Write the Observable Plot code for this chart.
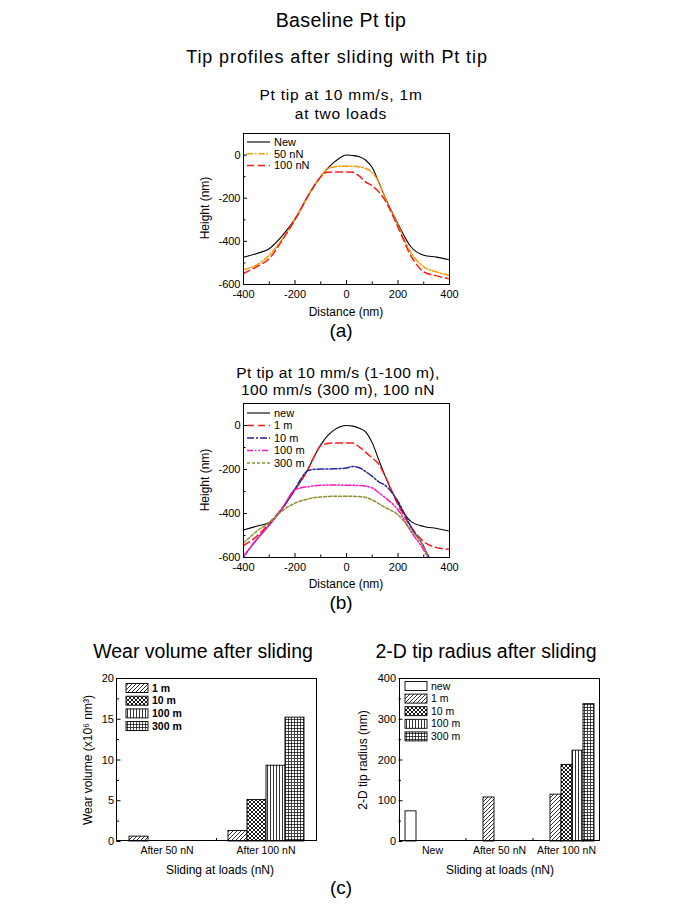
<!DOCTYPE html>
<html>
<head>
<meta charset="utf-8">
<script src="https://cdn.jsdelivr.net/npm/d3@7"></script>
<script src="https://cdn.jsdelivr.net/npm/@observablehq/plot@0.6"></script>
<style>
body { margin: 0; background: #fff; }
#page { position: relative; width: 682px; height: 906px; overflow: hidden; font-family: "Liberation Sans", Arial, sans-serif; }
#page svg { position: absolute; }
</style>
</head>
<body>
<div id="page"></div>
<script>
// ---------- DATA ----------
const distance = [-400,-350,-300,-250,-200,-150,-125,-100,-75,-50,-25,0,25,50,75,100,125,150,200,250,300,350,400];

// Panel (a): Pt tip at 10 mm/s, 1 m, two loads
const loadNames = ["New", "50 nN", "100 nN"];
const aNew  = [-474,-457,-434,-375,-296,-190,-140,-100,-64,-35,-12,0,-2,-8,-24,-58,-125,-196,-319,-425,-464,-473,-486];
const a50   = [-530,-510,-464,-390,-298,-190,-142,-100,-66,-55,-52,-52,-52,-55,-62,-82,-125,-198,-326,-452,-518,-542,-558];
const a100  = [-549,-518,-480,-395,-300,-192,-143,-100,-80,-78,-78,-78,-80,-98,-125,-142,-170,-210,-334,-467,-541,-560,-574];

// Panel (b): sliding distances at 100 nN
const distNames = ["new", "1 m", "10 m", "100 m", "300 m"];
const bNew  = [-475,-458,-441,-378,-292,-200,-140,-88,-48,-22,-6,0,-3,-12,-30,-79,-155,-230,-353,-436,-459,-468,-480];
const b1    = [-546,-505,-444,-375,-292,-200,-140,-92,-82,-79,-79,-79,-80,-98,-122,-148,-175,-230,-360,-460,-528,-555,-563];
const b10   = [-596,-520,-452,-378,-288,-205,-199,-198,-198,-197,-196,-193,-186,-192,-210,-231,-256,-272,-345,-460,-551,-675,-790];
const b100  = [-596,-520,-452,-378,-292,-278,-274,-272,-271,-271,-271,-272,-272,-273,-276,-284,-305,-328,-383,-482,-566,-690,-810];
const b300  = [-535,-482,-441,-388,-353,-334,-328,-325,-323,-322,-322,-322,-322,-323,-327,-338,-355,-372,-406,-475,-551,-720,-860];

// Panel (c) left: wear volume (x10^6 nm^3)
const wearGroups = ["After 50 nN", "After 100 nN"];
const wearSeries = ["1 m", "10 m", "100 m", "300 m"];
const wearAfter50  = [0.6, null, null, null];
const wearAfter100 = [1.3, 5.1, 9.3, 15.2];

// Panel (c) right: 2-D tip radius (nm)
const radGroups = ["New", "After 50 nN", "After 100 nN"];
const radSeries = ["new", "1 m", "10 m", "100 m", "300 m"];
const radNew      = [74, null, null, null, null];
const radAfter50  = [null, 108, null, null, null];
const radAfter100 = [null, 115, 188, 223, 337];

// Tick values
const profXMajor = [-400,-200,0,200,400];
const profXMinor = [-300,-100,100,300];
const profYMajor = [-600,-400,-200,0];
const profYMinor = [-500,-300,-100];
const wearYMajor = [0,5,10,15,20];
const wearYMinor = [2.5,7.5,12.5,17.5];
const radYMajor = [0,100,200,300,400];
const radYMinor = [50,150,250,350];

// ---------- STYLES ----------
const FONT = "Liberation Sans, Arial, sans-serif";
const loadColors = ["#000000", "#ff9900", "#ff1a1a"];
const loadDashes = [undefined, "6,2,1.5,2", "7,4"];
const distColors = ["#000000", "#ff1a1a", "#25259c", "#ff14c4", "#8f8f2c"];
const distDashes = [undefined, "7,4", "7,2,2,2", "6,2,1.5,2,1.5,2", "3,2"];
const patternFill = {"new": "white", "1 m": "url(#p1m)", "10 m": "url(#p10m)", "100 m": "url(#p100m)", "300 m": "url(#p300m)"};

const page = document.getElementById("page");

function place(svg, left, top) {
  svg.style.left = left + "px";
  svg.style.top = top + "px";
  page.appendChild(svg);
}

const baseStyle = {background: "none", fontFamily: FONT, fontSize: "11px", color: "black", overflow: "visible"};

function profilePlot(seriesVals, colors, dashes, box) {
  const marks = seriesVals.map((vals, i) =>
    Plot.line(vals, {x: distance, y: vals, stroke: colors[i], strokeDasharray: dashes[i],
      strokeWidth: i === 0 ? 1.1 : 1.5, curve: "monotone-x", clip: true}));
  return Plot.plot({
    width: box.w, height: box.h,
    marginLeft: box.ml, marginRight: box.mr, marginTop: box.mt, marginBottom: box.mb,
    x: {domain: [-400, 400]},
    y: {domain: [-600, 100]},
    style: baseStyle,
    marks: [
      ...marks,
      Plot.frame({stroke: "black", strokeWidth: 1}),
      Plot.axisX(profXMajor, {tickSize: -4, tickPadding: 10, tickFormat: d => String(d), label: null}),
      Plot.axisX(profXMinor, {tickSize: -2.5, tickFormat: () => "", label: null}),
      Plot.axisY(profYMajor, {tickSize: -4, tickPadding: 7, tickFormat: d => String(d), label: null}),
      Plot.axisY(profYMinor, {tickSize: -2.5, tickFormat: () => "", label: null})
    ]
  });
}

function barGeometry(groups, box, padIn, padOut) {
  const frameW = box.w - box.ml - box.mr;
  const step = frameW / (groups.length - padIn + 2 * padOut);
  return {step, outer: step * padOut};
}

function barPlot(groups, seriesNames, rows, yDomain, yMajor, yMinor, box, padIn, padOut) {
  const table = [];
  groups.forEach((g, gi) => seriesNames.forEach((s, si) => {
    const v = rows[gi][si];
    if (v != null) table.push({group: g, series: s, value: v});
  }));
  const {outer} = barGeometry(groups, box, padIn, padOut);
  return Plot.plot({
    width: box.w, height: box.h,
    marginLeft: box.ml, marginRight: box.mr, marginTop: box.mt, marginBottom: box.mb,
    facet: {data: table, x: "group"},
    fx: {domain: groups, paddingInner: padIn, paddingOuter: padOut, label: null, axis: "bottom", tickSize: 0, tickPadding: 5},
    x: {domain: seriesNames, padding: 0, axis: null},
    y: {domain: yDomain, axis: null},
    color: {domain: seriesNames, range: seriesNames.map(s => patternFill[s])},
    style: {...baseStyle, fontSize: "10.5px"},
    marks: [
      Plot.barY(table, {x: "series", y: "value", fill: "series", stroke: "black", strokeWidth: 0.9}),
      Plot.axisY(yMajor, {facet: false, tickSize: -4, tickPadding: 7, dx: -outer, tickFormat: d => String(d), label: null, fontSize: 11}),
      Plot.axisY(yMinor, {facet: false, tickSize: -2.5, dx: -outer, tickFormat: () => "", label: null})
    ]
  });
}

// ---------- PLOTS ----------
const boxA = {w: 320, h: 195, ml: 93, mr: 21, mt: 8, mb: 36};
place(profilePlot([aNew, a50, a100], loadColors, loadDashes, boxA), 150, 125);

const boxB = {w: 320, h: 195, ml: 93, mr: 21, mt: 8, mb: 33};
place(profilePlot([bNew, b1, b10, b100, b300], distColors, distDashes, boxB), 150, 395);

const boxW = {w: 270, h: 200, ml: 56, mr: 13, mt: 8, mb: 29};
const padW = [0.2, 0.105];
place(barPlot(wearGroups, wearSeries, [wearAfter50, wearAfter100], [0, 20], wearYMajor, wearYMinor, boxW, ...padW), 60, 670);

const boxR = {w: 270, h: 200, ml: 59, mr: 10, mt: 8, mb: 29};
const padR = [0.134, 0.067];
place(barPlot(radGroups, radSeries, [radNew, radAfter50, radAfter100], [0, 400], radYMajor, radYMinor, boxR, ...padR), 340, 670);

// ---------- OVERLAY: titles, labels, legends, patterns ----------
const ov = d3.select(page).append("svg")
  .attr("width", 682).attr("height", 906)
  .style("left", "0px").style("top", "0px")
  .style("pointer-events", "none")
  .style("font-family", FONT);

const defs = ov.append("defs");
function pattern(id, w, h, d, sw) {
  const p = defs.append("pattern").attr("id", id).attr("patternUnits", "userSpaceOnUse")
    .attr("width", w).attr("height", h);
  p.append("rect").attr("width", w).attr("height", h).attr("fill", "white");
  p.append("path").attr("d", d).attr("stroke", "black").attr("stroke-width", sw).attr("fill", "none");
}
pattern("p1m", 4, 4, "M-1,1L1,-1M0,4L4,0M3,5L5,3", 0.8);
pattern("p10m", 4, 4, "M0,0L4,4M0,4L4,0", 0.9);
pattern("p100m", 3, 3, "M1.5,0V3", 0.8);
pattern("p300m", 3, 3, "M1.5,0V3M0,1.5H3", 0.7);

function T(x, y, s, size, o = {}) {
  const t = ov.append("text").attr("x", x).attr("y", y).attr("font-size", size)
    .attr("text-anchor", o.anchor || "middle").attr("fill", "#000").text(s);
  if (o.weight) t.attr("font-weight", o.weight);
  if (o.ls) t.attr("letter-spacing", o.ls);
  if (o.dy) t.attr("dy", o.dy);
  if (o.rotate) t.attr("transform", `rotate(-90 ${x} ${y})`);
  return t;
}

// Titles
T(341, 27, "Baseline Pt tip", 19.5, {ls: 0.4});
T(337, 63, "Tip profiles after sliding with Pt tip", 18, {ls: 0.9});

// Panel (a)
T(341, 100, "Pt tip at 10 mm/s, 1m", 15.5, {ls: 0.8});
T(341, 119, "at two loads", 15.5, {ls: 0.8});
T(205, 208, "Height (nm)", 12, {rotate: true, dy: "0.35em"});
T(346, 316, "Distance (nm)", 12);
T(341, 337, "(a)", 19);

// Panel (b)
T(338, 378, "Pt tip at 10 mm/s (1-100 m),", 15.5, {ls: 0.4});
T(338, 395, "100 mm/s (300 m), 100 nN", 15.5, {ls: 0.4});
T(205, 480, "Height (nm)", 12, {rotate: true, dy: "0.35em"});
T(346, 588, "Distance (nm)", 12);
T(341, 609, "(b)", 19);

// Panel (c)
T(203, 658, "Wear volume after sliding", 19.5);
T(486, 658, "2-D tip radius after sliding", 19.5);
T(88, 760, "Wear volume (x10\u2076 nm\u00B3)", 12, {rotate: true, dy: "0.35em"});
T(363, 760, "2-D tip radius (nm)", 12, {rotate: true, dy: "0.35em"});
T(220, 874, "Sliding at loads (nN)", 12);
T(500, 874, "Sliding at loads (nN)", 12);
T(341, 894, "(c)", 19);

// Outer frames and group-boundary ticks for faceted bar plots (derived from margins/padding)
function outerFrame(box, left, top, groups, pads) {
  ov.append("rect").attr("x", left + box.ml + 0.5).attr("y", top + box.mt + 0.5)
    .attr("width", box.w - box.ml - box.mr - 1).attr("height", box.h - box.mt - box.mb - 1)
    .attr("fill", "none").attr("stroke", "black").attr("stroke-width", 1);
  const {step, outer} = barGeometry(groups, box, pads[0], pads[1]);
  const yb = top + box.h - box.mb;
  for (let i = 1; i < groups.length; i++) {
    const xb = left + box.ml + outer + i * step - step * pads[0] / 2;
    ov.append("line").attr("x1", xb).attr("x2", xb).attr("y1", yb).attr("y2", yb - 3)
      .attr("stroke", "black").attr("stroke-width", 1);
  }
}
outerFrame(boxW, 60, 670, wearGroups, padW);
outerFrame(boxR, 340, 670, radGroups, padR);

// Line legends
function lineLegend(names, colors, dashes, x0, y0, dy) {
  names.forEach((n, i) => {
    const y = y0 + i * dy;
    ov.append("line").attr("x1", x0).attr("x2", x0 + 23).attr("y1", y).attr("y2", y)
      .attr("stroke", colors[i]).attr("stroke-width", i === 0 ? 1.1 : 1.5)
      .attr("stroke-dasharray", dashes[i] || null);
    T(x0 + 27, y, n, 11, {anchor: "start", dy: "0.35em"});
  });
}
lineLegend(loadNames, loadColors, loadDashes, 247, 142, 11.7);
lineLegend(distNames, distColors, distDashes, 247, 413, 12.5);

// Bar legends
function barLegend(names, x0, y0, dy, bold) {
  names.forEach((n, i) => {
    const y = y0 + i * dy;
    ov.append("rect").attr("x", x0).attr("y", y - 4.5).attr("width", 22).attr("height", 9)
      .attr("fill", patternFill[n]).attr("stroke", "black").attr("stroke-width", 0.9);
    T(x0 + 26, y, n, 10.5, {anchor: "start", dy: "0.35em", weight: bold ? "bold" : null});
  });
}
barLegend(wearSeries, 126, 688, 12.7, true);
barLegend(radSeries, 405, 686, 12.6, false);
</script>
</body>
</html>
